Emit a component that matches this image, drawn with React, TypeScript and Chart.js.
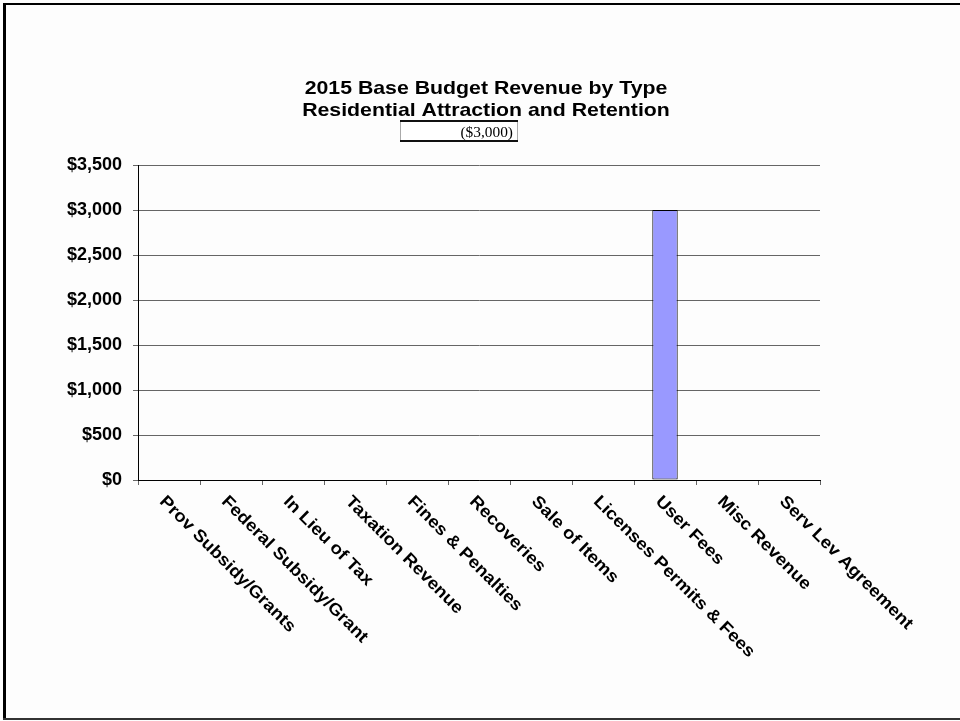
import React, { useEffect, useRef } from 'react';
import { Chart, registerables } from 'chart.js';

Chart.register(...registerables);

const TITLE_LINES = ['2015 Base Budget Revenue by Type', 'Residential Attraction and Retention'];
const BOX_TEXT = '($3,000)';
const categories = [
  'Prov Subsidy/Grants',
  'Federal Subsidy/Grant',
  'In Lieu of Tax',
  'Taxation Revenue',
  'Fines & Penalties',
  'Recoveries',
  'Sale of Items',
  'Licenses Permits & Fees',
  'User Fees',
  'Misc Revenue',
  'Serv Lev Agreement',
];
const revenue = [0, 0, 0, 0, 0, 0, 0, 0, 3000, 0, 0];
const yMin = 0;
const yMax = 3500;
const yStep = 500;

const SANS = '"Liberation Sans", Arial, Helvetica, sans-serif';
const SERIF = '"Liberation Serif", "Times New Roman", serif';

const decor = {
  id: 'decor',
  beforeDraw(chart: any) {
    const ctx = chart.ctx;
    ctx.save();
    ctx.fillStyle = '#fdfdfd';
    ctx.fillRect(0, 0, chart.width, chart.height);
    ctx.restore();
  },
  afterDraw(chart: any) {
    const ctx = chart.ctx;
    ctx.save();
    // outer frame
    ctx.fillStyle = '#000';
    ctx.fillRect(3, 3, 3, 717);
    ctx.fillRect(3, 3, 957, 2);
    ctx.fillStyle = '#333';
    ctx.fillRect(3, 718, 957, 2);

    // title
    const cx = 486;
    ctx.fillStyle = '#000';
    ctx.font = `bold 19px ${SANS}`;
    ctx.textAlign = 'center';
    ctx.textBaseline = 'alphabetic';
    TITLE_LINES.forEach((t, i) => {
      ctx.save();
      ctx.translate(cx, 94 + i * 22);
      ctx.scale(1.12, 1);
      ctx.fillText(t, 0, 0);
      ctx.restore();
    });

    // value box
    ctx.fillStyle = '#ffffff';
    ctx.fillRect(400, 121, 118, 20);
    ctx.fillStyle = '#aaa';
    ctx.fillRect(400, 121, 1, 20);
    ctx.fillRect(517, 121, 1, 20);
    ctx.fillStyle = '#111';
    ctx.fillRect(400, 120, 118, 2);
    ctx.fillRect(400, 140, 118, 2);
    ctx.fillStyle = '#000';
    ctx.font = `14px ${SERIF}`;
    ctx.textAlign = 'right';
    ctx.save();
    ctx.translate(513, 137);
    ctx.scale(1.1, 1);
    ctx.fillText(BOX_TEXT, 0, 0);
    ctx.restore();

    // rotated category labels
    const xs = chart.scales.x;
    ctx.font = `bold 17px ${SANS}`;
    ctx.textAlign = 'left';
    ctx.textBaseline = 'top';
    ctx.fillStyle = '#000';
    categories.forEach((c, i) => {
      const px = xs.getPixelForTick(i);
      ctx.save();
      ctx.translate(px - 1, xs.bottom + 8);
      ctx.rotate(Math.PI / 4);
      ctx.scale(1.1, 1);
      ctx.fillText(c, 0, 0);
      ctx.restore();
    });
    ctx.restore();
  },
};

export default function App() {
  const ref = useRef<HTMLCanvasElement>(null);
  useEffect(() => {
    document.body.style.margin = '0';
    const canvas = ref.current;
    if (!canvas) return;
    const chart = new Chart(canvas, {
      type: 'bar',
      data: {
        labels: categories,
        datasets: [
          {
            data: revenue,
            backgroundColor: '#9999ff',
            borderColor: '#000000',
            borderWidth: (c: any) => (c.raw ? 1 : 0),
            borderSkipped: false,
            categoryPercentage: 1,
            barPercentage: 0.41,
          },
        ],
      },
      options: {
        responsive: false,
        animation: false,
        devicePixelRatio: 1,
        layout: { padding: { top: 165, left: 0, right: 140, bottom: 236 } },
        plugins: {
          legend: { display: false },
          title: { display: false },
          tooltip: { enabled: false },
        },
        scales: {
          x: {
            offset: true,
            grid: {
              offset: true,
              drawOnChartArea: false,
              drawTicks: true,
              tickLength: 5,
              color: '#666',
            },
            border: { display: true, color: '#000', width: 1 },
            ticks: { display: false },
          },
          y: {
            min: yMin,
            max: yMax,
            afterFit: (scale: any) => {
              scale.width = 138;
            },
            grid: {
              color: '#666',
              drawTicks: true,
              tickLength: 5,
              lineWidth: 1,
            },
            border: { display: true, color: '#000', width: 1 },
            ticks: {
              stepSize: yStep,
              padding: 11,
              color: '#000',
              font: { family: SANS, size: 18, weight: 'bold' },
              callback: (v: any) => '$' + Number(v).toLocaleString('en-US'),
            },
          },
        },
      },
      plugins: [decor],
    });
    return () => chart.destroy();
  }, []);
  return (
    <div style={{ position: 'absolute', left: 0, top: 0, width: 960, height: 721 }}>
      <canvas ref={ref} width={960} height={721} style={{ display: 'block' }} />
    </div>
  );
}
